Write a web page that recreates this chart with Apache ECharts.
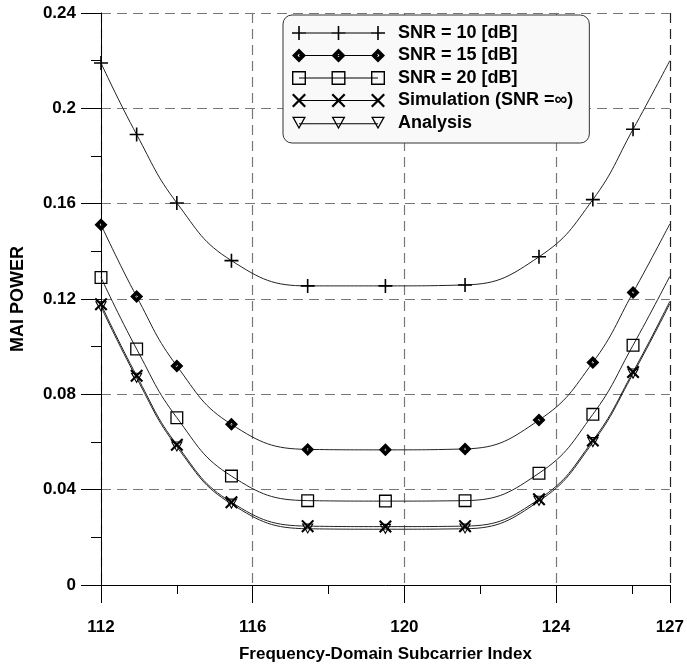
<!DOCTYPE html>
<html>
<head>
<meta charset="utf-8">
<script src="https://cdn.jsdelivr.net/npm/echarts@6/dist/echarts.min.js"></script>
<style>
html, body { margin: 0; padding: 0; background: #fff; }
#chart { width: 687px; height: 668px; }
</style>
</head>
<body>
<div id="chart"></div>
<script>
// subcarrier positions of the plotted points (last one has no marker)
const xIndex = [112, 112.94, 114.0, 115.44, 117.45, 119.5, 121.6, 123.55, 124.97, 126.03, 127];
const snr10 = [0.219, 0.189, 0.1603, 0.1361, 0.1255, 0.1255, 0.1259, 0.1377, 0.1617, 0.1912, 0.2200];
const snr15 = [0.1512, 0.121, 0.0919, 0.0674, 0.0569, 0.0567, 0.0571, 0.0692, 0.0934, 0.1227, 0.1515];
const snr20 = [0.129, 0.099, 0.0702, 0.0457, 0.0354, 0.0352, 0.0354, 0.0469, 0.0716, 0.1006, 0.1295];
const simInf = [0.1178, 0.0878, 0.0588, 0.0347, 0.0247, 0.0245, 0.0247, 0.0360, 0.0606, 0.0894, 0.1190];
const analysis = [0.1168, 0.0868, 0.0580, 0.0340, 0.0236, 0.0234, 0.0236, 0.0352, 0.0598, 0.0886, 0.1180];
const markerCount = 10;
const seriesNames = ['SNR = 10 [dB]', 'SNR = 15 [dB]', 'SNR = 20 [dB]', 'Simulation (SNR =\u221e)', 'Analysis'];
const yTicks = [0, 0.04, 0.08, 0.12, 0.16, 0.2, 0.24];

const font = "'Liberation Sans', Arial, Helvetica, sans-serif";

// marker outlines in a 14x14 box, holes wound the other way
const shapes = {
  plus: [[[0, 6.2], [14, 6.2], [14, 7.8], [0, 7.8]], [[6.2, 0], [7.8, 0], [7.8, 14], [6.2, 14]]],
  diamond: [[[7, 0], [14, 7], [7, 14], [0, 7]], [[7, 5.6], [5.6, 7], [7, 8.4], [8.4, 7]]],
  square: [[[0, 0], [14, 0], [14, 14], [0, 14]], [[1.4, 1.4], [1.4, 12.6], [12.6, 12.6], [12.6, 1.4]]],
  cross: [[[0, 1.6], [1.6, 0], [14, 12.4], [12.4, 14]], [[12.4, 0], [14, 1.6], [1.6, 14], [0, 12.4]]],
  tri: [[[0, 0], [14, 0], [7, 12.5]], [[2.2, 1.2], [7, 9.9], [11.8, 1.2]]]
};
const shapeOrder = ['plus', 'diamond', 'square', 'cross', 'tri'];
const symbolSizes = [14, 13, 13, 13, 12];

function toPath(polys, dx) {
  return polys.map(function (p) {
    return 'M' + p.map(function (q) { return (q[0] + dx) + ',' + q[1]; }).join('L') + 'Z';
  }).join(' ');
}
function legendIcon(name) {
  let s = [0, 39.5, 79].map(function (dx) { return toPath(shapes[name], dx); }).join(' ');
  s += ' ' + toPath([[[7, 6.5], [86, 6.5], [86, 7.5], [7, 7.5]]], 0);
  return 'path://' + s;
}

const values = [snr10, snr15, snr20, simInf, analysis];

let chart = echarts.init(document.getElementById('chart'));

let series = values.map(function (ys, k) {
  return {
    name: seriesNames[k],
    type: 'line',
    smooth: 0.45,
    showAllSymbol: true,
    symbol: 'path://' + toPath(shapes[shapeOrder[k]], 0),
    symbolSize: symbolSizes[k],
    symbolKeepAspect: true,
    lineStyle: { color: '#222', width: 1 },
    itemStyle: { color: '#000' },
    emphasis: { disabled: true },
    data: xIndex.map(function (x, i) {
      let item = { value: [x, ys[i]] };
      if (i >= markerCount) item.symbol = 'none';
      return item;
    })
  };
});

let option = {
  animation: false,
  grid: { left: 101, right: 10, top: 13, bottom: 83 },
  legend: {
    orient: 'vertical',
    left: 283,
    top: 15,
    padding: [9, 16, 11, 9],
    itemWidth: 93,
    itemHeight: 14,
    itemGap: 4.5,
    backgroundColor: '#f9f9f9',
    borderColor: '#333',
    borderWidth: 1,
    borderRadius: 9,
    selectedMode: false,
    textStyle: { fontFamily: font, fontWeight: 'bold', fontSize: 18, color: '#000', padding: [0, 0, 0, 8] },
    data: seriesNames.map(function (n, k) {
      return { name: n, icon: legendIcon(shapeOrder[k]), itemStyle: { color: '#000', borderWidth: 0 } };
    })
  },
  xAxis: [
    {
      type: 'value',
      min: 112,
      max: 127,
      interval: 4,
      position: 'bottom',
      name: 'Frequency-Domain Subcarrier Index',
      nameLocation: 'middle',
      nameGap: 61,
      nameTextStyle: { fontFamily: font, fontWeight: 'bold', fontSize: 17, color: '#000' },
      axisLine: { show: true, lineStyle: { color: '#000', width: 1 } },
      axisTick: { show: true, length: 18, lineStyle: { color: '#000', width: 1 } },
      axisLabel: { fontFamily: font, fontWeight: 'bold', fontSize: 17, color: '#000', margin: 34 },
      splitLine: { show: true, lineStyle: { color: ['#777', '#777', '#777', '#777', '#222'], width: 1.2, type: [10, 6] } }
    },
    {
      // short ticks every 2 subcarriers
      type: 'value',
      min: 112,
      max: 127,
      interval: 2,
      position: 'bottom',
      axisLine: { show: false },
      axisTick: { show: true, length: 9, lineStyle: { color: '#000', width: 1 } },
      axisLabel: { show: false },
      splitLine: { show: false }
    }
  ],
  yAxis: {
    type: 'value',
    min: yTicks[0],
    max: yTicks[yTicks.length - 1],
    interval: 0.04,
    name: 'MAI POWER',
    nameLocation: 'middle',
    nameGap: 74,
    nameTextStyle: { fontFamily: font, fontWeight: 'bold', fontSize: 18, color: '#000' },
    axisLine: { show: true, lineStyle: { color: '#000', width: 1 } },
    axisTick: { show: true, length: 20, lineStyle: { color: '#000', width: 1 } },
    minorTick: { show: true, splitNumber: 2, length: 10, lineStyle: { color: '#000', width: 1 } },
    axisLabel: { fontFamily: font, fontWeight: 'bold', fontSize: 17, color: '#000', margin: 25 },
    splitLine: { show: true, lineStyle: { color: '#777', width: 1.2, type: [10, 6] } }
  },
  series: series
};

chart.setOption(option);
</script>
</body>
</html>
